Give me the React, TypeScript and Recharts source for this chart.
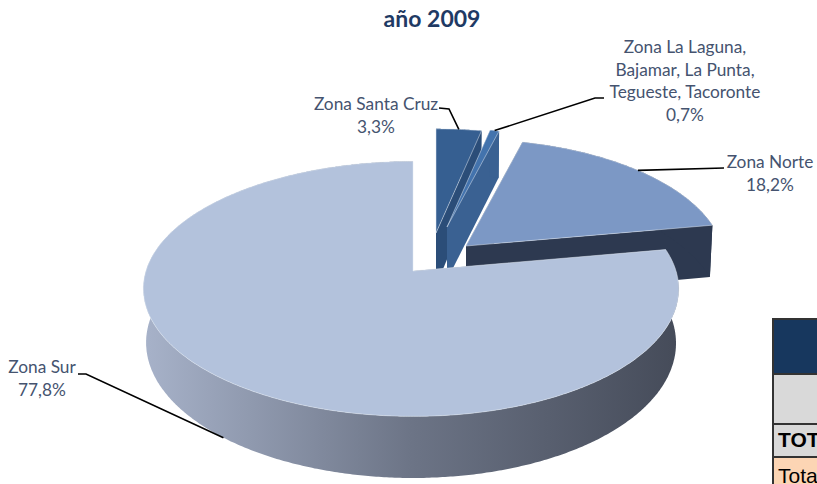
import { PieChart, Pie } from "recharts";

const zones = ["Zona Santa Cruz", "Zona La Laguna", "Zona Norte", "Zona Sur"];
const shares = [3.3, 0.7, 18.2, 77.8];
const shareLabels = ["3,3%", "0,7%", "18,2%", "77,8%"];
const zoneLines = [
  ["Zona Santa Cruz"],
  ["Zona La Laguna,", "Bajamar, La Punta,", "Tegueste, Tacoronte"],
  ["Zona Norte"],
  ["Zona Sur"],
];

const chartData = zones.map((name, i) => ({ name, value: shares[i] }));

// fake 3D: perspective tilt of the pie, wall depth and how far each slice is pulled out
const TILT = 0.14;
const STRETCH = 2.12;
const DEPTH = 53;
const BOTTOM_SHRINK = 0.99;
const SIDE_DRIFT = 2;

const sliceLayout = [
  { dx: 23, dy: -38, scale: 0.95, top: "#365f91", side: "#2b4d78", wall: "#2b4d78" },
  { dx: 34, dy: -44, scale: 0.9, top: "#4373ad", side: "#3a6192", wall: "#3a6192" },
  { dx: 53, dy: -25, scale: 0.975, top: "#7c98c5", side: "#2d3950", wall: "#2d3950" },
  { dx: 0, dy: 0, scale: 1, top: "#b3c2dc", side: "#6f7789", wall: "url(#surWall)" },
];

const labelLayout = [
  { x: 376, y: 110, elbow: [[439, 108], [449, 109]], lower: false },
  { x: 685, y: 53, elbow: [[604, 98], [595, 98]], lower: false },
  { x: 770, y: 168, elbow: [[724, 168]], lower: false },
  { x: 42, y: 373, elbow: [[78, 374], [86, 374]], lower: true },
];

const project = (
  cx: number,
  cy: number,
  radius: number,
  rechartsAngle: number,
  r: number,
  lower: boolean
) => {
  const theta = ((90 - rechartsAngle) * Math.PI) / 180;
  const u = Math.sin(theta) * r;
  const v = Math.cos(theta) * r;
  const w = 1 / (1 + TILT * v);
  return [
    cx + radius * STRETCH * u * w * (lower ? BOTTOM_SHRINK : 1) - SIDE_DRIFT * u * u,
    cy - radius * v * w + (lower ? DEPTH * w : 0),
  ];
};

const toPath = (points: number[][]) =>
  "M" + points.map((p) => `${p[0].toFixed(1)},${p[1].toFixed(1)}`).join("L") + "Z";

function Slice3D(props: any) {
  const { cx, cy, outerRadius, startAngle, endAngle } = props;
  const name = props.name ?? props.payload?.name;
  const style = sliceLayout[zones.indexOf(name)];
  const radius = outerRadius * style.scale;
  const ox = cx + style.dx;
  const oy = cy + style.dy;
  const steps = Math.max(4, Math.round(Math.abs(endAngle - startAngle) * 2));
  const angles = Array.from(
    { length: steps + 1 },
    (_, i) => startAngle + ((endAngle - startAngle) * i) / steps
  );
  const rim = angles.map((a) => project(ox, oy, radius, a, 1, false));
  const rimLow = angles.map((a) => project(ox, oy, radius, a, 1, true));
  const apex = project(ox, oy, radius, startAngle, 0, false);
  const apexLow = project(ox, oy, radius, startAngle, 0, true);
  return (
    <g>
      <defs>
        <linearGradient id="surWall" gradientUnits="userSpaceOnUse" x1="145" y1="0" x2="679" y2="0">
          <stop offset="0" stopColor="#a7b2c9" />
          <stop offset="0.5" stopColor="#6c7486" />
          <stop offset="1" stopColor="#454b59" />
        </linearGradient>
      </defs>
      <path d={toPath([apex, rim[0], rimLow[0], apexLow])} fill={style.side} />
      <path d={toPath([apex, rim[steps], rimLow[steps], apexLow])} fill={style.side} />
      <path d={toPath([...rim, ...[...rimLow].reverse()])} fill={style.wall} />
      <path d={toPath([apex, ...rim])} fill={style.top} stroke="#dfe6f1" strokeWidth={0.5} />
    </g>
  );
}

function SliceLabel(props: any) {
  const { cx, cy, outerRadius, midAngle, index } = props;
  const style = sliceLayout[index];
  const spot = labelLayout[index];
  const end = project(
    cx + style.dx,
    cy + style.dy,
    outerRadius * style.scale,
    midAngle,
    1,
    spot.lower
  );
  const lines = [...zoneLines[index], shareLabels[index]];
  return (
    <g>
      <polyline
        points={[...spot.elbow, end].map((p) => p.join(",")).join(" ")}
        fill="none"
        stroke="#000"
        strokeWidth={1.6}
      />
      {lines.map((line, i) => (
        <text
          key={line}
          x={spot.x}
          y={spot.y + i * 22.7}
          textAnchor="middle"
          fontFamily="Lato"
          fontSize={17.3}
          fill="#45536f"
        >
          {line}
        </text>
      ))}
    </g>
  );
}

const cell = {
  position: "absolute" as const,
  left: 772,
  width: 120,
  boxSizing: "border-box" as const,
  borderLeft: "2px solid #333",
  borderTop: "2px solid #333",
  paddingLeft: 4,
  fontFamily: "Liberation Sans",
  fontSize: 21,
  color: "#000",
  whiteSpace: "nowrap" as const,
};

export default function App() {
  return (
    <div
      style={{
        position: "absolute",
        left: 0,
        top: 0,
        width: 817,
        height: 484,
        overflow: "hidden",
        background: "#fff",
      }}
    >
      <PieChart width={817} height={484} margin={{ top: 0, right: 0, bottom: 0, left: 0 }}>
        <Pie
          data={chartData}
          dataKey="value"
          nameKey="name"
          cx={413}
          cy={271}
          outerRadius={125}
          startAngle={90}
          endAngle={-270}
          stroke="none"
          isAnimationActive={false}
          shape={Slice3D}
          label={SliceLabel}
          labelLine={false}
        />
      </PieChart>
      <div
        style={{
          position: "absolute",
          left: 332,
          width: 200,
          top: 4,
          textAlign: "center",
          fontFamily: "Lato",
          fontWeight: 700,
          fontSize: 23,
          color: "#1f3a64",
        }}
      >
        año 2009
      </div>
      <div style={{ ...cell, top: 318, height: 55, background: "#17375e" }} />
      <div style={{ ...cell, top: 373, height: 50, background: "#d9d9d9" }} />
      <div style={{ ...cell, top: 423, height: 33, background: "#d9d9d9", fontWeight: 700, lineHeight: "29px" }}>
        TOTAL
      </div>
      <div style={{ ...cell, top: 456, height: 30, background: "#fcd5b4", lineHeight: "36px" }}>
        Total
      </div>
    </div>
  );
}
